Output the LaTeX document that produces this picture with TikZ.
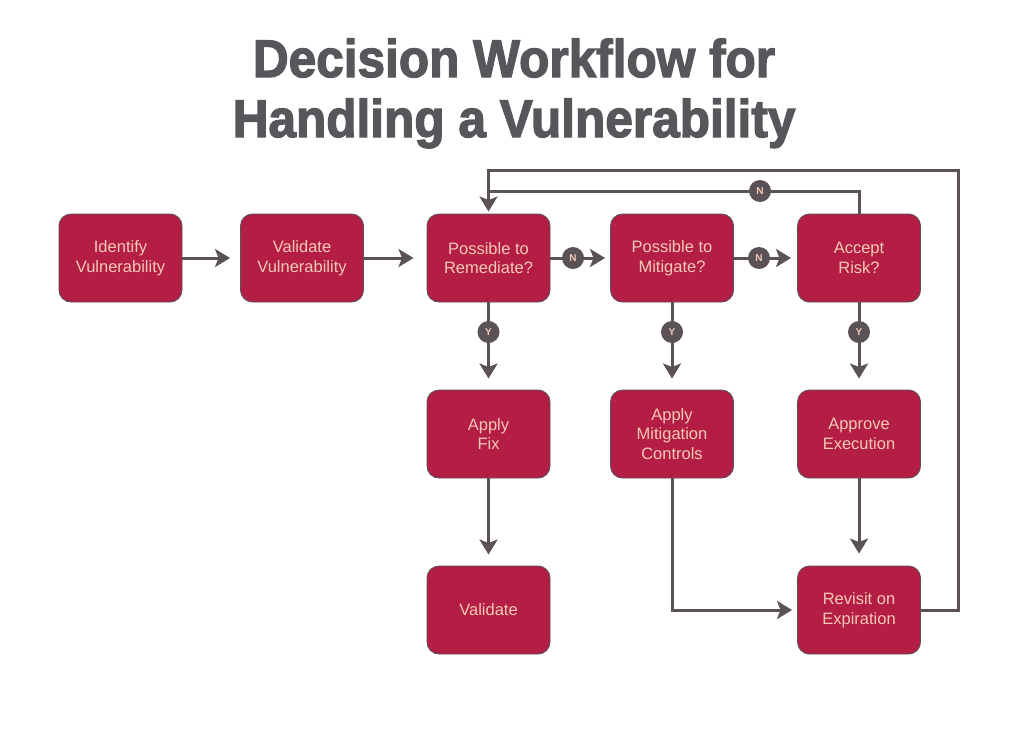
\documentclass[tikz,border=0pt]{standalone}
\usepackage{fontspec}
\setmainfont{Liberation Sans}
\usetikzlibrary{arrows.meta}
\definecolor{crim}{HTML}{B41E45}
\definecolor{peach}{HTML}{F3C9B6}
\definecolor{lgray}{HTML}{5A5257}
\definecolor{tgray}{HTML}{58565A}
\tikzset{
  box/.style={draw=lgray, line width=0.9pt, fill=crim, rounded corners=12pt,
    minimum width=123pt, minimum height=88pt, inner sep=0pt, align=center,
    text=peach, font=\fontsize{16.5}{19.5}\selectfont},
  arr/.style={draw=lgray, line width=3pt, -{Stealth[length=15pt,width=18pt,inset=3.5pt]}},
  ln/.style={draw=lgray, line width=3pt},
  badge/.style={circle, fill=lgray, minimum size=22pt, inner sep=0pt,
    text=peach, font=\bfseries\fontsize{10}{10}\selectfont},
  ttl/.style={anchor=base, text=tgray, font=\bfseries\fontsize{53}{53}\selectfont\addfontfeature{FakeBold=2.5}, xscale=0.935, inner sep=0pt}
}
\begin{document}
\begin{tikzpicture}[x=1pt,y=-1pt]
\useasboundingbox[fill=white] (0,0) rectangle (1024,744);
\node[ttl] (t1) at (514,77) {Decision Workflow for};
\node[ttl] (t2) at (514,137) {Handling a Vulnerability};

\node[box] (ident) at (120.5,258) {Identify\\Vulnerability};
\node[box] (valid) at (302,258) {Validate\\Vulnerability};
\node[box] (rem) at (488.5,258) {Possible to\\Remediate?};
\node[box] (mit) at (672,258) {Possible to\\Mitigate?};
\node[box] (acc) at (859,258) {Accept\\Risk?};
\node[box] (fix) at (488.5,434) {Apply\\Fix};
\node[box] (ctrl) at (672,434) {Apply\\Mitigation\\Controls};
\node[box] (appr) at (859,434) {Approve\\Execution};
\node[box] (val2) at (488.5,610) {Validate};
\node[box] (rev) at (859,610) {Revisit on\\Expiration};

\coordinate (loopR) at (958,170);
\coordinate (loopI) at (488.5,191);

\draw[arr, shorten >=10pt] (ident) -- (valid);
\draw[arr, shorten >=13pt] (valid) -- (rem);
\draw[arr, shorten >=5pt] (rem) -- (mit);
\draw[arr, shorten >=6pt] (mit) -- (acc);
\draw[arr, shorten >=11pt] (rem) -- (fix);
\draw[arr, shorten >=11pt] (mit) -- (ctrl);
\draw[arr, shorten >=11pt] (acc) -- (appr);
\draw[arr, shorten >=11pt] (fix) -- (val2);
\draw[arr, shorten >=12pt] (appr) -- (rev);
\draw[arr, shorten >=5pt] (ctrl.south) |- (rev.west);
\draw[ln] (acc.north) |- (loopI);
\draw[arr, shorten >=2pt, line join=miter] (rev.east) -| (loopR) -| (rem.north);

\node[badge] (n1) at (573,258) {N};
\node[badge] (n2) at (759,258) {N};
\node[badge] (n3) at (760,191) {N};
\node[badge] (y1) at (488.5,332) {Y};
\node[badge] (y2) at (672,332) {Y};
\node[badge] (y3) at (859,332) {Y};
\end{tikzpicture}
\end{document}
